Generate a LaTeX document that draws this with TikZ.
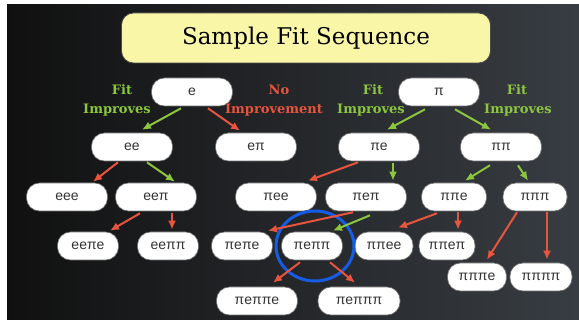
\documentclass[tikz,border=0pt]{standalone}
\usepackage{fontspec}
\setmainfont{Liberation Sans}
\newfontfamily\titlefont{DejaVu Serif}
\newfontfamily\labelfont{DejaVu Serif}
\usetikzlibrary{arrows.meta,calc,shapes.geometric}
\definecolor{fitgreen}{RGB}{140,198,63}
\definecolor{nored}{RGB}{232,84,62}
\definecolor{titleyellow}{RGB}{250,246,168}
\definecolor{circblue}{RGB}{22,92,228}
\definecolor{bgleft}{RGB}{16,16,16}
\definecolor{bgright}{RGB}{56,61,67}
\begin{document}
\begin{tikzpicture}[x=1pt,y=-1pt,
  seq/.style={draw=black!55, line width=0.6pt, fill=white, rounded corners=13pt,
    minimum height=28pt, inner sep=0pt, text=black!80, font=\fontsize{14}{14}\selectfont},
  good/.style={draw=fitgreen, line width=2pt, -{Latex[length=9pt,width=8pt]}},
  bad/.style={draw=nored, line width=2pt, -{Latex[length=9pt,width=8pt]}},
  lab/.style={font=\labelfont\bfseries\fontsize{13}{13}\selectfont, inner sep=0pt},
  goodlab/.style={lab, text=fitgreen},
  badlab/.style={lab, text=nored}]
\useasboundingbox (0,0) rectangle (579,320);
\fill[white] (0,0) rectangle (579,320);
\shade[left color=bgleft, right color=bgright] (7,5) rectangle (579,320);

% title
\node[draw=black!70, fill=titleyellow, rounded corners=12pt, minimum width=369pt,
  minimum height=50pt, line width=0.8pt, inner sep=0pt] (title) at (306,38)
  {\titlefont\fontsize{23}{23}\selectfont Sample Fit Sequence};

% row 1
\node[seq, minimum width=81pt] (e) at (192,92) {e};
\node[seq, minimum width=81pt] (p) at (439,92) {π};
% row 2
\node[seq, minimum width=81pt] (ee) at (132,147) {ee};
\node[seq, minimum width=81pt] (ep) at (256,147) {eπ};
\node[seq, minimum width=81pt] (pe) at (379,147) {πe};
\node[seq, minimum width=81pt] (pp) at (501,147) {ππ};
% row 3
\node[seq, minimum width=81pt] (eee) at (67,197) {eee};
\node[seq, minimum width=81pt] (eep) at (156,197) {eeπ};
\node[seq, minimum width=81pt] (pee) at (276,197) {πee};
\node[seq, minimum width=81pt] (pep) at (366,197) {πeπ};
\node[seq, minimum width=65pt] (ppe) at (454,197) {ππe};
\node[seq, minimum width=64pt] (ppp) at (535,197) {πππ};
% row 4
\node[seq, minimum width=61pt] (eepe) at (88,246) {eeπe};
\node[seq, minimum width=61pt] (eepp) at (168,246) {eeππ};
\node[seq, minimum width=61pt] (pepe) at (242,246) {πeπe};
\node[seq, minimum width=61pt] (pepp) at (312,246) {πeππ};
\node[seq, minimum width=58pt] (ppee) at (384,246) {ππee};
\node[seq, minimum width=56pt] (ppep) at (447,246) {ππeπ};
% row 5
\node[seq, minimum width=59pt] (pppe) at (477,277) {πππe};
\node[seq, minimum width=62pt] (pppp) at (541,277) {ππππ};
\node[seq, minimum width=81pt] (peppe) at (257,301) {πeππe};
\node[seq, minimum width=82pt] (peppp) at (359,301) {πeπππ};

% highlight
\node[draw=circblue, line width=3pt, ellipse, minimum width=78pt, minimum height=70pt,
  inner sep=0pt] (hl) at (315,246) {};

% labels
\node[goodlab] (l1a) at (122,90) {Fit};
\node[goodlab] (l1b) at (117,110) {Improves};
\node[badlab] (l2a) at (279,90) {No};
\node[badlab] (l2b) at (274,110) {Improvement};
\node[goodlab] (l3a) at (373,90) {Fit};
\node[goodlab] (l3b) at (371,110) {Improves};
\node[goodlab] (l4a) at (517,90) {Fit};
\node[goodlab] (l4b) at (518,110) {Improves};

% arrows row1 -> row2
\draw[good] ($(e.south)+(-11,2)$) -- ($(ee.north)+(10,-3)$);
\draw[bad]  ($(e.south)+(16,2)$) -- ($(ep.north)+(-16,-2)$);
\draw[good] ($(p.south)+(-14,3)$) -- ($(pe.north)+(8,-3)$);
\draw[good] ($(p.south)+(16,3)$) -- ($(pp.north)+(-10,-3)$);
% row2 -> row3
\draw[bad]  ($(ee.south)+(-14,1)$) -- ($(eee.north)+(26,-1)$);
\draw[good] ($(ee.south)+(15,1)$) -- ($(eep.north)+(19,-1)$);
\draw[bad]  ($(pe.south)+(-21,1)$) -- ($(pee.north)+(32,-2)$);
\draw[good] ($(pe.south)+(14,2)$) -- ($(pep.north)+(27,-2)$);
\draw[good] ($(pp.south)+(-11,4)$) -- ($(ppe.north)+(11,-2)$);
\draw[good] ($(pp.south)+(17,4)$) -- ($(ppp.north)+(-7,-2)$);
% row3 -> row4
\draw[bad]  ($(eep.south)+(-16,2)$) -- ($(eepe.north)+(22,-1)$);
\draw[bad]  ($(eep.south)+(16,2)$) -- ($(eepp.north)+(4,-2)$);
\draw[bad]  ($(pep.south)+(-13,1)$) -- ($(pepe.north)+(26,-1)$);
\draw[good] ($(pep.south)+(4,4)$) -- ($(pepp.north)+(21,-1)$);
\draw[bad]  ($(ppe.south)+(-17,2)$) -- ($(ppee.north)+(14,-4)$);
\draw[bad]  ($(ppe.south)+(4,1)$) -- ($(ppep.north)+(11,-2)$);
\draw[bad]  ($(ppp.south)+(-18,1)$) -- ($(pppe.north)+(10,-3)$);
\draw[bad]  ($(ppp.south)+(12,1)$) -- ($(pppp.north)+(6,-3)$);
% row4 -> row5
\draw[bad]  ($(pepp.south)+(-12,2)$) -- ($(peppe.north)+(16,-4)$);
\draw[bad]  ($(pepp.south)+(18,2)$) -- ($(peppp.north)+(-4,-4)$);
\end{tikzpicture}
\end{document}
